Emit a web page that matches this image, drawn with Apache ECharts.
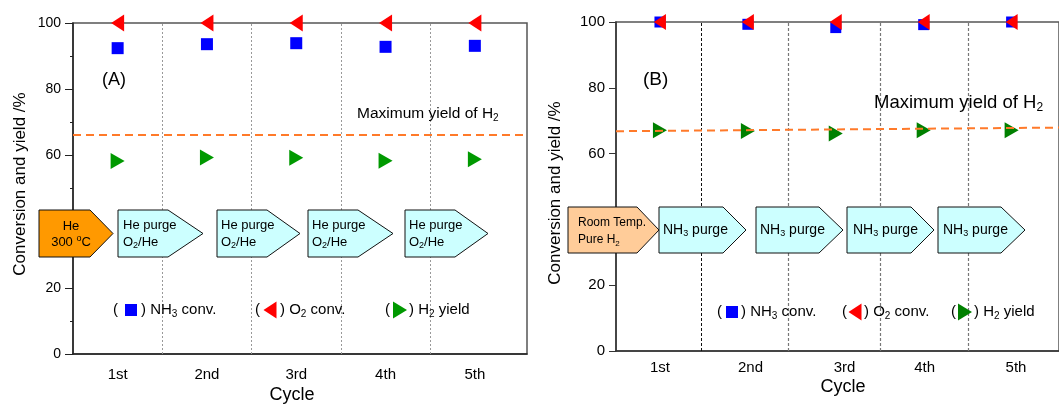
<!DOCTYPE html>
<html>
<head>
<meta charset="utf-8">
<script src="https://cdn.jsdelivr.net/npm/echarts@6.0.0/dist/echarts.min.js"></script>
<style>
    html, body { margin: 0; padding: 0; background: #fff; }
    #chart { width: 1059px; height: 405px; }
</style>
</head>
<body>
<div id="chart"></div>
<script>
var cycles = ["1st", "2nd", "3rd", "4th", "5th"],
    cycleNo = [1, 2, 3, 4, 5],
    yTicks = [0, 20, 40, 60, 80, 100],
    // panel A
    nh3A = [92.4, 93.6, 93.9, 92.8, 93.1],
    o2A = [100, 100, 100, 100, 100],
    h2A = [58.3, 59.4, 59.3, 58.4, 58.8],
    maxH2A = 66.3,
    // panel B
    nh3B = [100, 99.3, 98.3, 99.2, 100],
    o2B = [100, 100, 100, 100, 100],
    h2B = [67.1, 66.9, 66.1, 67.1, 67.1],
    maxH2B = [66.8, 67.9];

var FONT = "Liberation Sans, Arial, sans-serif",
    LEFT_TRI = "path://M0,5 L10,0 L10,10 Z",
    RIGHT_TRI = "path://M0,0 L10,5 L0,10 Z",
    ORANGE = "#FF7A2A";

// where the original figure put its dividers and cycle labels
var dividerA = [1.5, 2.5, 3.5, 4.5],
    dividerB = [1.47, 2.46, 3.51, 4.51],
    labelAtB = [1, 2.03, 3.1, 4.01, 5.05];

function pairs(ys) {
    return cycleNo.map(function(x, i) {
        return [x, ys[i]];
    });
}

var rich = {
    t: { fontSize: 15, fontFamily: FONT, color: "#000", lineHeight: 18 },
    s: { fontSize: 10, fontFamily: FONT, color: "#000", lineHeight: 10, verticalAlign: "bottom" },
    a: { fontSize: 13, fontFamily: FONT, color: "#000", lineHeight: 16 },
    as: { fontSize: 9, fontFamily: FONT, color: "#000", lineHeight: 9, verticalAlign: "bottom" },
    ap: { fontSize: 9, fontFamily: FONT, color: "#000", lineHeight: 9, verticalAlign: "top" },
    r: { fontSize: 12, fontFamily: FONT, color: "#000", lineHeight: 16 },
    rs: { fontSize: 8, fontFamily: FONT, color: "#000", lineHeight: 8, verticalAlign: "bottom" },
    b: { fontSize: 14, fontFamily: FONT, color: "#000", lineHeight: 17 },
    bs: { fontSize: 9, fontFamily: FONT, color: "#000", lineHeight: 9, verticalAlign: "bottom" },
    m: { fontSize: 15.5, fontFamily: FONT, color: ORANGE, lineHeight: 19 },
    ms: { fontSize: 10, fontFamily: FONT, color: ORANGE, lineHeight: 10, verticalAlign: "bottom" },
    n: { fontSize: 18.5, fontFamily: FONT, color: ORANGE, lineHeight: 22 },
    ns: { fontSize: 12, fontFamily: FONT, color: ORANGE, lineHeight: 12, verticalAlign: "bottom" }
};

function txt(x, y, text, opt) {
    opt = opt || {};
    return {
        type: "text",
        x: x,
        y: y,
        z: 120,
        rotation: opt.rotation || 0,
        style: {
            text: text,
            rich: opt.rich ? rich : undefined,
            fontSize: opt.size || 15,
            fontFamily: FONT,
            fill: opt.color || "#000",
            align: opt.align || "left",
            verticalAlign: "middle"
        }
    };
}

function arrow(x0, xb, xt, y0, y1, fill) {
    return {
        type: "polygon",
        z: 100,
        shape: { points: [[x0, y0], [xb, y0], [xt, (y0 + y1) / 2], [xb, y1], [x0, y1]] },
        style: { fill: fill, stroke: "#111", lineWidth: 1 }
    };
}

function tri(cx, cy, w, h, left, color) {
    var pts = left ? [[cx - w / 2, cy], [cx + w / 2, cy - h / 2], [cx + w / 2, cy + h / 2]]
                   : [[cx + w / 2, cy], [cx - w / 2, cy - h / 2], [cx - w / 2, cy + h / 2]];
    return { type: "polygon", z: 110, shape: { points: pts }, style: { fill: color } };
}

function square(cx, cy, s, color) {
    return { type: "rect", z: 110, shape: { x: cx - s / 2, y: cy - s / 2, width: s, height: s }, style: { fill: color } };
}

var graphics = [
    // axis titles
    txt(20, 184, "Conversion and yield /%", { rotation: Math.PI / 2, size: 17, align: "center" }),
    txt(555, 193, "Conversion and yield /%", { rotation: Math.PI / 2, size: 17, align: "center" }),
    txt(292, 395, "Cycle", { size: 18, align: "center" }),
    txt(843, 387, "Cycle", { size: 18, align: "center" }),
    // panel tags
    txt(102, 80, "(A)", { size: 18 }),
    txt(643, 80, "(B)", { size: 19 }),
    txt(357, 114, "{m|Maximum yield of H}{ms|2}", { rich: true }),
    txt(874, 103, "{n|Maximum yield of H}{ns|2}", { rich: true }),

    // panel A process arrows
    arrow(39, 90, 113, 210, 257, "#FF9900"),
    arrow(118, 168, 203, 210, 257, "#CCFFFF"),
    arrow(217, 267, 300, 210, 257, "#CCFFFF"),
    arrow(308, 358, 393, 210, 257, "#CCFFFF"),
    arrow(405, 455, 488, 210, 257, "#CCFFFF"),
    txt(71, 226, "{a|He}", { rich: true, align: "center" }),
    txt(71, 242, "{a|300 }{ap|o}{a|C}", { rich: true, align: "center" }),

    // panel B process arrows
    arrow(568, 637, 659, 207, 253, "#FFCC99"),
    arrow(659, 723, 746, 207, 253, "#CCFFFF"),
    arrow(756, 819, 843, 207, 253, "#CCFFFF"),
    arrow(847, 911, 934, 207, 253, "#CCFFFF"),
    arrow(938, 1001, 1025, 207, 253, "#CCFFFF"),
    txt(578, 223, "{r|Room Temp.}", { rich: true }),
    txt(578, 240, "{r|Pure H}{rs|2}", { rich: true }),

    // panel A legend
    txt(113, 310, "(", { size: 15 }),
    square(131, 310, 12, "#0000FF"),
    txt(141, 310, "{t|) NH}{s|3}{t| conv.}", { rich: true }),
    txt(255, 310, "(", { size: 15 }),
    tri(270, 310, 13, 17, true, "#FF0000"),
    txt(280, 310, "{t|) O}{s|2}{t| conv.}", { rich: true }),
    txt(385, 310, "(", { size: 15 }),
    tri(400, 310, 14, 17, false, "#009900"),
    txt(409, 310, "{t|) H}{s|2}{t| yield}", { rich: true }),

    // panel B legend
    txt(717, 312, "(", { size: 15 }),
    square(732, 312, 12, "#0000FF"),
    txt(741, 312, "{t|) NH}{s|3}{t| conv.}", { rich: true }),
    txt(842, 312, "(", { size: 15 }),
    tri(855, 312, 13, 17, true, "#FF0000"),
    txt(864, 312, "{t|) O}{s|2}{t| conv.}", { rich: true }),
    txt(951, 312, "(", { size: 15 }),
    tri(965, 312, 14, 17, false, "#008000"),
    txt(974, 312, "{t|) H}{s|2}{t| yield}", { rich: true })
];

// text inside the cyan arrows
[123, 221, 312, 409].forEach(function(x) {
    graphics.push(txt(x, 225, "{a|He purge}", { rich: true }));
    graphics.push(txt(x, 242, "{a|O}{as|2}{a|/He}", { rich: true }));
});
[663, 760, 853, 943].forEach(function(x) {
    graphics.push(txt(x, 230, "{b|NH}{bs|3}{b| purge}", { rich: true }));
});

function xAxis(idx, max, color, labelAt) {
    return {
        type: "value",
        gridIndex: idx,
        min: 0.5,
        max: max,
        axisLine: { lineStyle: { color: color, width: 1.5 } },
        axisTick: { show: false },
        splitLine: { show: false },
        axisLabel: {
            customValues: labelAt,
            margin: idx ? 9 : 13,
            fontSize: 15,
            fontFamily: FONT,
            color: "#000",
            formatter: function(v) {
                return cycles[Math.round(v) - 1] || "";
            }
        }
    };
}

function yAxis(idx, color) {
    return {
        type: "value",
        gridIndex: idx,
        min: 0,
        max: 100,
        interval: 20,
        axisLine: { show: true, lineStyle: { color: color, width: 1.5 } },
        axisTick: { show: true, length: idx ? 7 : 8, lineStyle: { color: color } },
        minorTick: { show: !idx, splitNumber: 2, length: 3, lineStyle: { color: color } },
        splitLine: { show: false },
        axisLabel: {
            margin: idx ? 11 : 12,
            fontSize: idx ? 15 : 14,
            fontFamily: FONT,
            color: "#000",
            customValues: yTicks
        }
    };
}

function dividers(list, colors) {
    return {
        silent: true,
        symbol: "none",
        animation: false,
        label: { show: false },
        data: list.map(function(x, i) {
            return {
                xAxis: x,
                lineStyle: colors[i]
            };
        })
    };
}

var dotA = { color: "#999", width: 1, type: [2, 2] },
    dashB1 = { color: "#111", width: 1, type: [3, 2] },
    dashB = { color: "#777", width: 1.2, type: [3, 2] };

function maxLine(data) {
    return {
        silent: true,
        symbol: "none",
        label: { show: false },
        lineStyle: { color: ORANGE, width: 2, type: [8, 5] },
        data: data
    };
}

function scatter(name, idx, symbol, size, color, ys, markLine) {
    return {
        name: name,
        type: "scatter",
        xAxisIndex: idx,
        yAxisIndex: idx,
        clip: false,
        symbol: symbol,
        symbolSize: size,
        itemStyle: { color: color, opacity: 1 },
        data: pairs(ys),
        markLine: markLine
    };
}

var maxXA = 0.5 + 454 / 89.3,
    maxXB = 0.5 + 450 / 89.3;

var option = {
    animation: false,
    textStyle: { fontFamily: FONT },
    grid: [
        { left: 73, top: 23, width: 454, height: 331, show: true, borderColor: "#555", borderWidth: 1.5 },
        { left: 616, top: 22, width: 450, height: 329, show: true, borderColor: "#555", borderWidth: 1.5 }
    ],
    xAxis: [xAxis(0, maxXA, "#222", cycleNo), xAxis(1, maxXB, "#333", labelAtB)],
    yAxis: [yAxis(0, "#222"), yAxis(1, "#333")],
    graphic: graphics,
    series: [
        scatter("NH3 conv. A", 0, "rect", 12, "#0000FF", nh3A, dividers(dividerA, [dotA, dotA, dotA, dotA])),
        scatter("O2 conv. A", 0, LEFT_TRI, [13, 17], "#FF0000", o2A, maxLine([{ yAxis: maxH2A }])),
        scatter("H2 yield A", 0, RIGHT_TRI, [14, 16], "#009900", h2A),
        scatter("NH3 conv. B", 1, "rect", 11, "#0000FF", nh3B, dividers(dividerB, [dashB1, dashB, dashB, dashB])),
        scatter("O2 conv. B", 1, LEFT_TRI, [12, 16], "#FF0000", o2B,
            maxLine([[{ coord: [0.5, maxH2B[0]] }, { coord: [maxXB, maxH2B[1]] }]])),
        scatter("H2 yield B", 1, RIGHT_TRI, [14, 16], "#008000", h2B)
    ]
};

var chart = echarts.init(document.getElementById("chart"));
chart.setOption(option);
</script>
</body>
</html>
